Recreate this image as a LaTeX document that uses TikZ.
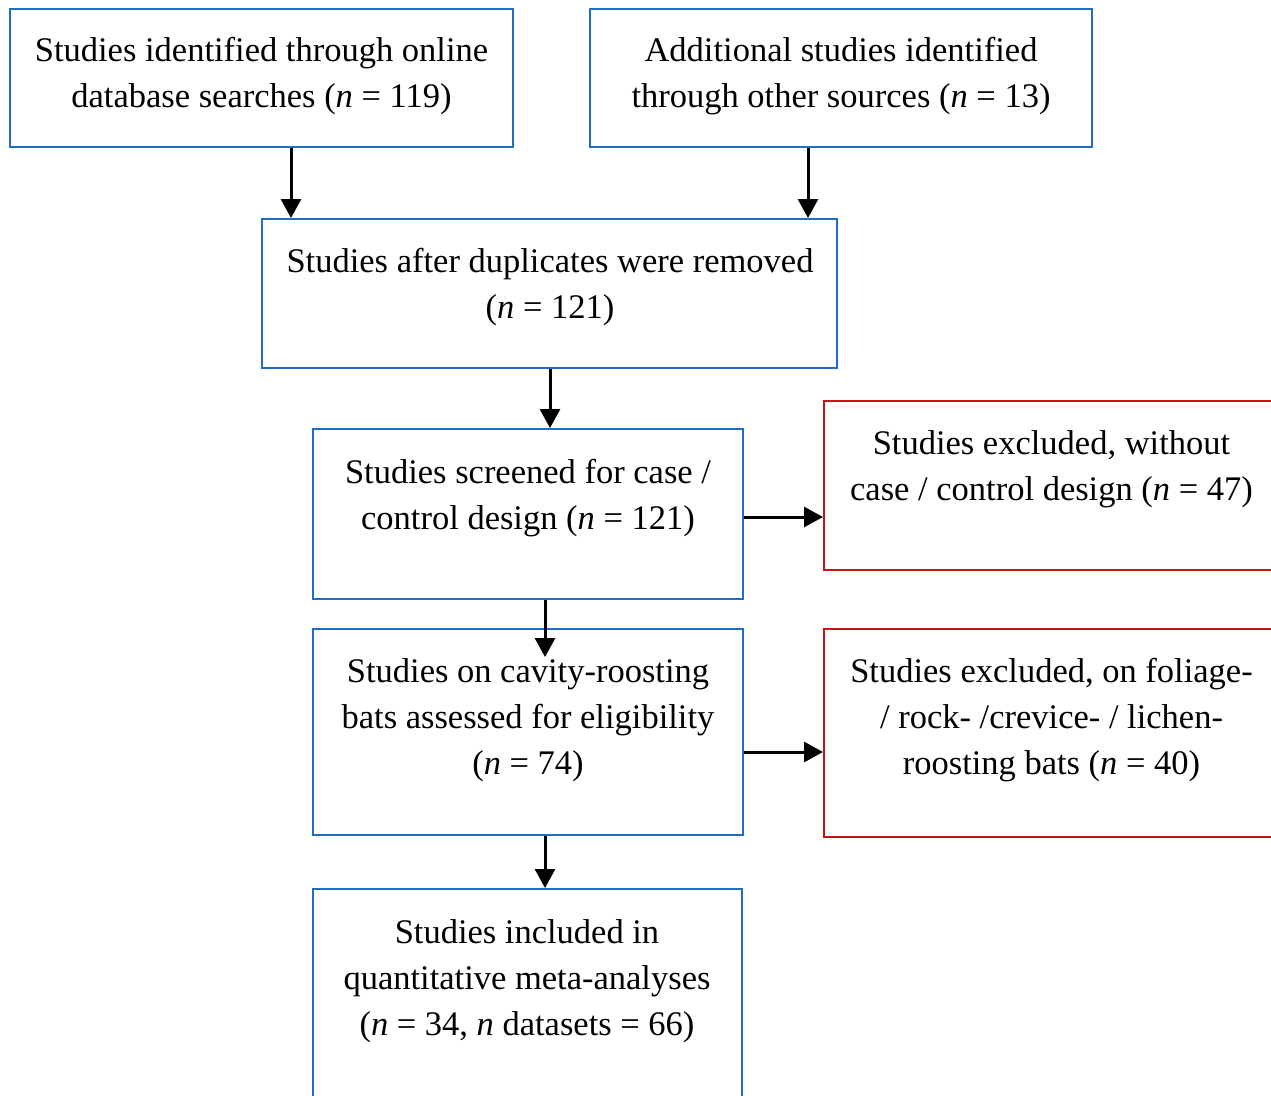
\documentclass[tikz,border=0pt]{standalone}
\usepackage{fontspec}
\setmainfont{Liberation Serif}
\usetikzlibrary{arrows.meta}
\definecolor{boxblue}{RGB}{30,110,200}
\definecolor{boxred}{RGB}{200,20,20}
\begin{document}
\begin{tikzpicture}[x=1pt,y=-1pt,
  bluebox/.style={draw=boxblue,line width=2pt,rectangle,inner sep=0pt},
  redbox/.style={draw=boxred,line width=2pt,rectangle,inner sep=0pt},
  txt/.style={inner sep=0pt,align=center,font=\fontsize{34.5}{46}\selectfont},
  arr/.style={line width=3pt,-{Triangle[length=19pt,width=20pt]}}]
\useasboundingbox (0,0) rectangle (1271,1095);
\fill[white] (0,0) rectangle (1271,1095);
% boxes
\node[bluebox,minimum width=503pt,minimum height=138pt] (box1) at (261.5,77.5) {};
\node[bluebox,minimum width=502pt,minimum height=138pt] (box2) at (841,77.5) {};
\node[bluebox,minimum width=575pt,minimum height=149pt] (box3) at (549.5,293.5) {};
\node[bluebox,minimum width=430pt,minimum height=170pt] (box4) at (528,514) {};
\node[redbox,minimum width=456pt,minimum height=169pt] (red1) at (1052,485.5) {};
\node[bluebox,minimum width=430pt,minimum height=206pt] (box5) at (528,732) {};
\node[redbox,minimum width=456pt,minimum height=208pt] (red2) at (1052,733) {};
\node[bluebox,minimum width=429pt,minimum height=208pt] (box6) at (527.5,993) {};
% texts
\node[txt] (t1) at (261.5,76) {Studies identified through online\\database searches (\textit{n} = 119)};
\node[txt] (t2) at (841,76) {Additional studies identified\\through other sources (\textit{n} = 13)};
\node[txt] (t3) at (550,287.5) {Studies after duplicates were removed\\(\textit{n} = 121)};
\node[txt] (t4) at (528,498) {Studies screened for case /\\control design (\textit{n} = 121)};
\node[txt] (t5) at (1051.5,469) {Studies excluded, without\\case / control design (\textit{n} = 47)};
\node[txt] (t6) at (528,720) {Studies on cavity-roosting\\bats assessed for eligibility\\(\textit{n} = 74)};
\node[txt] (t7) at (1051.5,720) {Studies excluded, on foliage-\\/ rock- /crevice- / lichen-\\roosting bats (\textit{n} = 40)};
\node[txt] (t8) at (527,981) {Studies included in\\quantitative meta-analyses\\(\textit{n} = 34, \textit{n} datasets = 66)};
% arrows
\draw[arr] (291,0 |- box1.south) -- (291,0 |- box3.north);
\draw[arr] (808,0 |- box2.south) -- (808,0 |- box3.north);
\draw[arr] (550,0 |- box3.south) -- (550,0 |- box4.north);
\draw[arr] (545,0 |- box4.south) -- ++(0,57);
\draw[arr] (545,0 |- box5.south) -- (545,0 |- box6.north);
\draw[arr] (box4.east |- 0,517) -- (red1.west |- 0,517);
\draw[arr] (box5.east |- 0,752) -- (red2.west |- 0,752);
\end{tikzpicture}
\end{document}
